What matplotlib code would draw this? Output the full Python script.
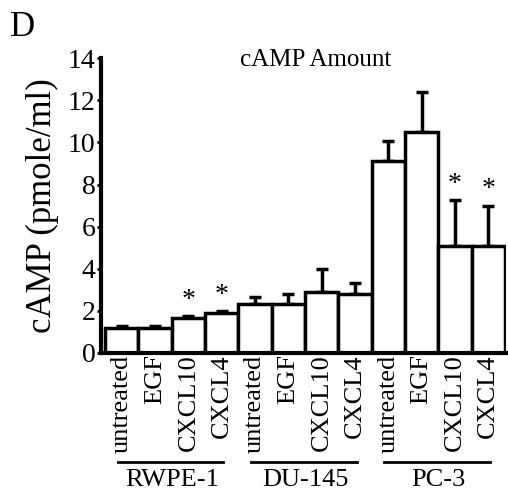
import matplotlib
matplotlib.use("Agg")
import matplotlib.pyplot as plt
import matplotlib.transforms as mtransforms
import numpy as np

plt.rcParams['font.family'] = ['Liberation Serif', 'DejaVu Serif']

groups = ["RWPE-1", "DU-145", "PC-3"]
treatments = ["untreated", "EGF", "CXCL10", "CXCL4"]
means = [1.19, 1.18, 1.66, 1.90,
         2.33, 2.33, 2.90, 2.80,
         9.10, 10.50, 5.10, 5.10]
errors = [0.11, 0.10, 0.09, 0.10,
          0.32, 0.47, 1.10, 0.50,
          0.95, 1.90, 2.15, 1.90]
significant = [False, False, True, True,
               False, False, False, False,
               False, False, True, True]
yticks = [0, 2, 4, 6, 8, 10, 12, 14]

fig = plt.figure(figsize=(5.08, 4.93), dpi=100)
ax = fig.add_axes([0.199, 0.284, 0.797, 0.598])

x = np.arange(len(means))
labels = treatments * len(groups)
ax.bar(x, means, width=1.0, color='white', edgecolor='black', linewidth=2.5, zorder=2)
ax.errorbar(x, means, yerr=[np.zeros(len(means)), errors], fmt='none',
            ecolor='black', elinewidth=2.5, capsize=4, capthick=2.5, zorder=1)

for xi, m, e, s in zip(x, means, errors, significant):
    if s:
        ax.text(xi, m + e + 0.15, '*', ha='center', va='bottom', fontsize=20)

ax.set_xlim(-0.62, 11.53)
ax.set_ylim(0, 14)
ax.set_yticks(yticks)
ax.set_yticklabels([str(t) for t in yticks], fontsize=20)
ax.set_xticks(x)
ax.set_xticklabels(labels, rotation=90, fontsize=19)
ax.tick_params(axis='x', length=0, pad=1)
ax.tick_params(axis='y', length=3, width=2, direction='out', pad=1)
for sp in ['top', 'right']:
    ax.spines[sp].set_visible(False)
for sp in ['left', 'bottom']:
    ax.spines[sp].set_linewidth(3)

ax.set_ylabel('cAMP (pmole/ml)', fontsize=25, labelpad=6)
ax.text(0.53, 1.03, 'cAMP Amount', transform=ax.transAxes, ha='center', va='top', fontsize=18)
fig.text(0.02, 0.945, 'D', fontsize=25, ha='left', va='center')

trans = mtransforms.blended_transform_factory(ax.transData, fig.transFigure)
for i, g in enumerate(groups):
    x0 = i * 4 - 0.12
    x1 = i * 4 + 3.05
    ax.plot([x0, x1], [0.063, 0.063], color='black', lw=2, transform=trans, clip_on=False)
    ax.text(i * 4 + 1.5, 0.026, g, transform=trans, ha='center', va='center', fontsize=19)

fig.savefig('out.png', dpi=100)
